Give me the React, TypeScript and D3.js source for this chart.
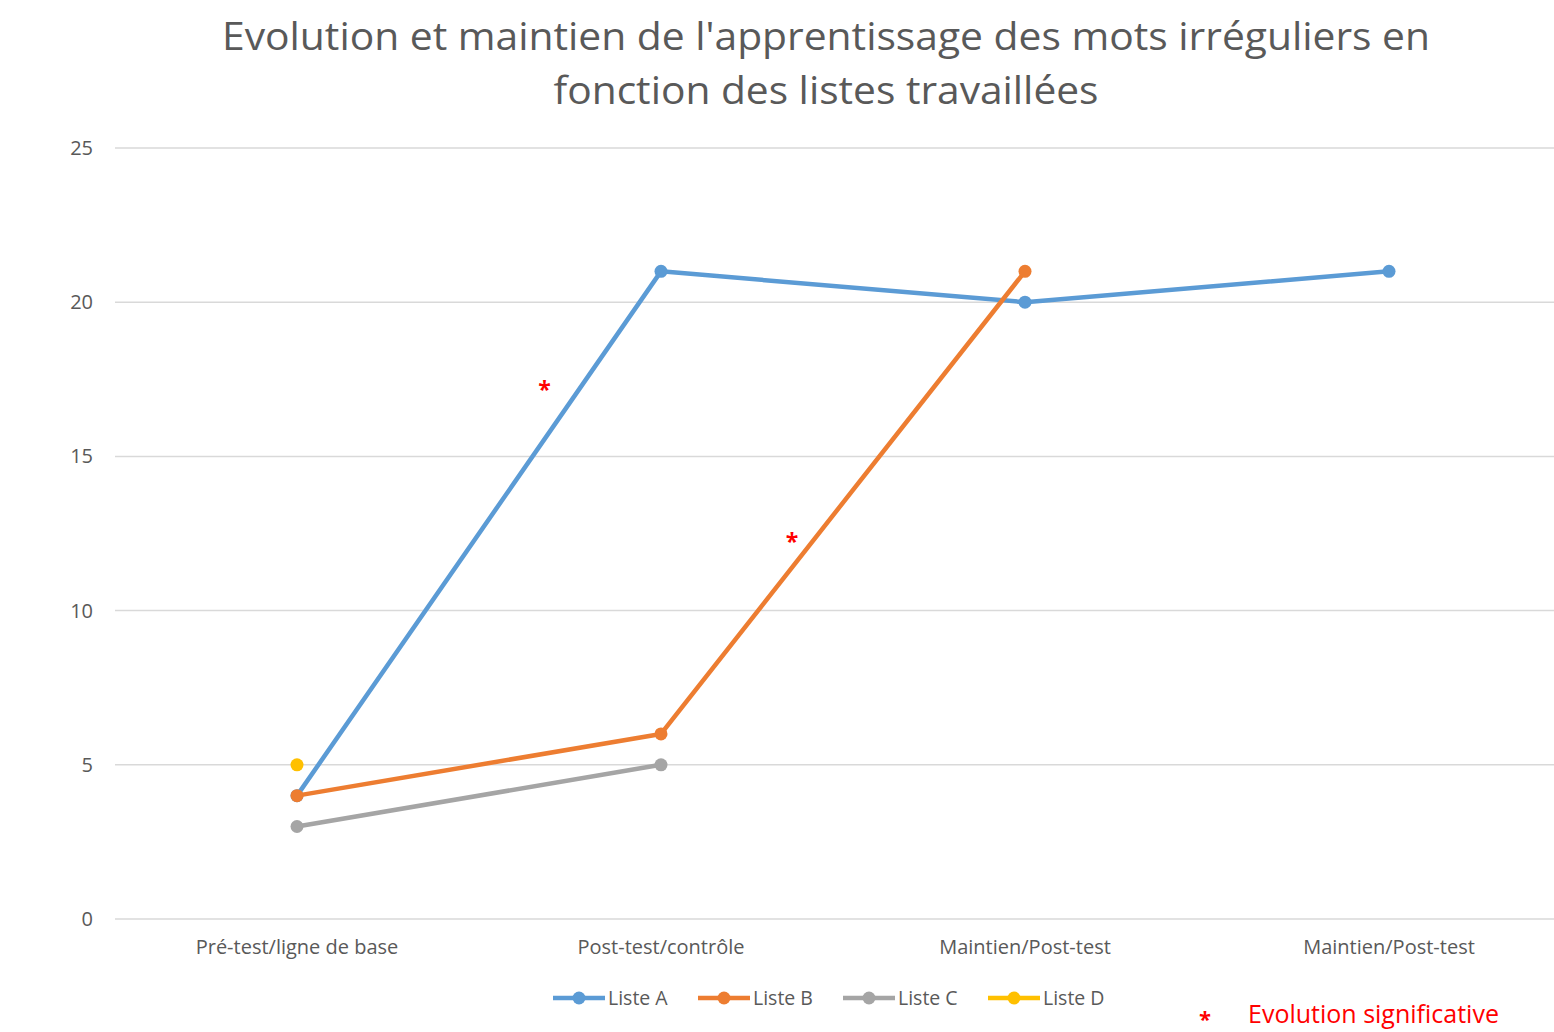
import React from 'react'
import * as d3 from 'd3'

const categories = ['Pré-test/ligne de base', 'Post-test/contrôle', 'Maintien/Post-test', 'Maintien/Post-test ']
const listeA = [4, 21, 20, 21]
const listeB = [4, 6, 21, null]
const listeC = [3, 5, null, null]
const listeD = [5, null, null, null]
const seriesNames = ['Liste A', 'Liste B', 'Liste C', 'Liste D']
const seriesColors = ['#5B9BD5', '#ED7D31', '#A5A5A5', '#FFC000']
const yTicks = [0, 5, 10, 15, 20, 25]
// significance markers: [position between categories, value]
const stars = [[0.68, 17.3], [1.36, 12.4]]

const W = 1554
const H = 1032
const font = '"Open Sans", Lato, sans-serif'

export default function App() {
  const x = d3.scalePoint<string>().domain(categories).range([115, 1571]).padding(0.5)
  const y = d3.scaleLinear().domain([0, 25]).range([919, 148])
  const step = x.step()
  const xi = (i: number) => (x(categories[0]) as number) + i * step

  const all = [listeA, listeB, listeC, listeD]
  const line = d3.line<number | null>()
    .defined(d => d !== null)
    .x((_, i) => xi(i))
    .y(d => y(d as number))

  return (
    <svg width={W} height={H} style={{ position: 'absolute', left: 0, top: 0, background: '#fff' }}>
      <text x={826} y={50} textAnchor="middle" fontFamily={font} fontSize={38} fill="#595959"
        textLength={1208} lengthAdjust="spacingAndGlyphs">
        Evolution et maintien de l'apprentissage des mots irréguliers en
      </text>
      <text x={826} y={104} textAnchor="middle" fontFamily={font} fontSize={38} fill="#595959"
        textLength={545} lengthAdjust="spacingAndGlyphs">
        fonction des listes travaillées
      </text>

      {yTicks.map(t => (
        <g key={t}>
          <line x1={115} x2={W} y1={y(t)} y2={y(t)} stroke="#d9d9d9" strokeWidth={1.5} />
          <text x={93} y={y(t) + 7} textAnchor="end" fontFamily={font} fontSize={20} fill="#595959">{t}</text>
        </g>
      ))}

      {categories.map(c => (
        <text key={c} x={x(c)} y={954} textAnchor="middle" fontFamily={font} fontSize={20} fill="#595959">{c.trim()}</text>
      ))}

      {all.map((s, k) => (
        <g key={k}>
          <path d={line(s) || ''} fill="none" stroke={seriesColors[k]} strokeWidth={4.5} strokeLinejoin="round" />
          {s.map((v, i) => v === null ? null : (
            <circle key={i} cx={xi(i)} cy={y(v)} r={6.5} fill={seriesColors[k]} />
          ))}
        </g>
      ))}

      {stars.map(([p, v], i) => (
        <text key={i} x={xi(p)} y={y(v) + 13} textAnchor="middle" fontFamily={font} fontSize={23} fontWeight="bold" fill="#FF0000">*</text>
      ))}

      {seriesNames.map((n, k) => {
        const lx = 553 + k * 145
        return (
          <g key={n}>
            <line x1={lx} x2={lx + 52} y1={998} y2={998} stroke={seriesColors[k]} strokeWidth={4.5} />
            <circle cx={lx + 26} cy={998} r={6.5} fill={seriesColors[k]} />
            <text x={lx + 55} y={1005} fontFamily={font} fontSize={19.5} fill="#595959">{n}</text>
          </g>
        )
      })}

      <text x={1205} y={1027} textAnchor="middle" fontFamily={font} fontSize={22} fontWeight="bold" fill="#FF0000">*</text>
      <text x={1248} y={1023} fontFamily={font} fontSize={25} fill="#FF0000">Evolution significative</text>
    </svg>
  )
}
